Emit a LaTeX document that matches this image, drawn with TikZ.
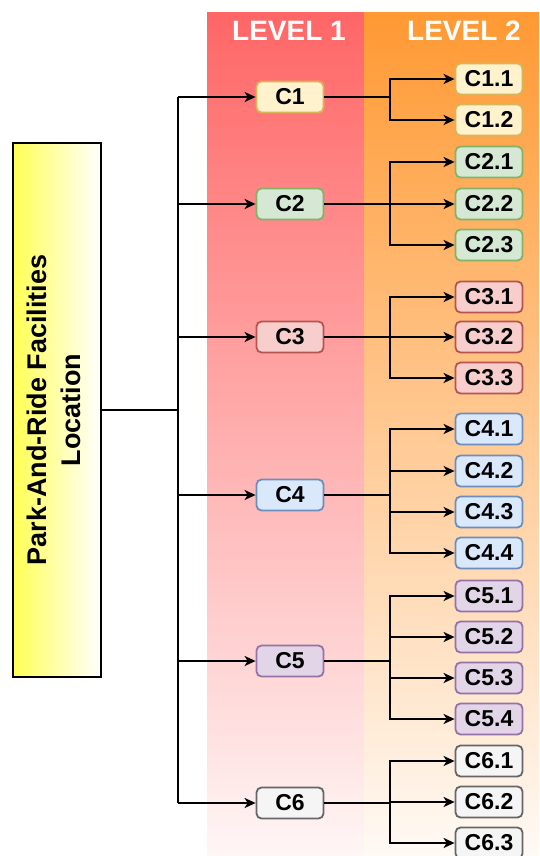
\documentclass[tikz,border=0pt]{standalone}
\usepackage{fontspec}
\setmainfont{Liberation Sans}
\usetikzlibrary{arrows.meta}
\definecolor{lonetop}{HTML}{FF6666}
\definecolor{lonebot}{HTML}{FFF6F6}
\definecolor{ltwotop}{HTML}{FF9933}
\definecolor{ltwobot}{HTML}{FFFAF5}
\definecolor{rooty}{HTML}{FFFF55}
\definecolor{fA}{HTML}{FFF2CC}\definecolor{sA}{HTML}{D6B656}
\definecolor{fB}{HTML}{D5E8D4}\definecolor{sB}{HTML}{82B366}
\definecolor{fC}{HTML}{F8CECC}\definecolor{sC}{HTML}{B85450}
\definecolor{fD}{HTML}{DAE8FC}\definecolor{sD}{HTML}{6C8EBF}
\definecolor{fE}{HTML}{E1D5E7}\definecolor{sE}{HTML}{9673A6}
\definecolor{fF}{HTML}{F5F5F5}\definecolor{sF}{HTML}{666666}
\begin{document}
\begin{tikzpicture}[x=1pt,y=-1pt,
  cbox/.style={draw, rounded corners=5pt, line width=1.8pt, minimum width=67pt,
    minimum height=31pt, inner sep=0pt, font=\fontsize{23}{26}\selectfont\bfseries},
  ca/.style={cbox, fill=fA, draw=sA},
  cb/.style={cbox, fill=fB, draw=sB},
  cc/.style={cbox, fill=fC, draw=sC},
  cd/.style={cbox, fill=fD, draw=sD},
  ce/.style={cbox, fill=fE, draw=sE},
  cf/.style={cbox, fill=fF, draw=sF},
  wire/.style={line width=2.3pt},
  arr/.style={line width=2.3pt, -{Stealth[length=11pt,width=10pt,inset=3pt]}},
  hdr/.style={text=white, font=\fontsize{28}{32}\selectfont\bfseries},
  rootbox/.style={draw, line width=2.3pt, left color=rooty, right color=white,
    minimum width=88pt, minimum height=534pt, inner sep=0pt,
    font=\fontsize{27}{34}\selectfont\bfseries}
]
\useasboundingbox (0,0) rectangle (539,856);
\shade[top color=lonetop, bottom color=lonebot] (207,13) rectangle (364,856);
\shade[top color=ltwotop, bottom color=ltwobot] (364,13) rectangle (539,856);
\node[hdr] (h1) at (289,31) {LEVEL 1};
\node[hdr] (h2) at (464,31) {LEVEL 2};

\node[rootbox] (root) at (57,410) {\rotatebox{90}{\begin{tabular}{@{}c@{}}Park-And-Ride Facilities\\Location\end{tabular}}};

\node[ca] (C1) at (290,97) {C1};
\node[cb] (C2) at (290,204) {C2};
\node[cc] (C3) at (290,337) {C3};
\node[cd] (C4) at (290,495) {C4};
\node[ce] (C5) at (290,661) {C5};
\node[cf] (C6) at (290,803) {C6};

\node[ca] (C11) at (489,79) {C1.1};
\node[ca] (C12) at (489,120) {C1.2};
\node[cb] (C21) at (489,162) {C2.1};
\node[cb] (C22) at (489,204) {C2.2};
\node[cb] (C23) at (489,245) {C2.3};
\node[cc] (C31) at (489,297) {C3.1};
\node[cc] (C32) at (489,337) {C3.2};
\node[cc] (C33) at (489,378) {C3.3};
\node[cd] (C41) at (489,429) {C4.1};
\node[cd] (C42) at (489,471) {C4.2};
\node[cd] (C43) at (489,512) {C4.3};
\node[cd] (C44) at (489,553) {C4.4};
\node[ce] (C51) at (489,596) {C5.1};
\node[ce] (C52) at (489,637) {C5.2};
\node[ce] (C53) at (489,678) {C5.3};
\node[ce] (C54) at (489,719) {C5.4};
\node[cf] (C61) at (489,761) {C6.1};
\node[cf] (C62) at (489,802) {C6.2};
\node[cf] (C63) at (489,843) {C6.3};

\coordinate (tr) at (178,410);
\coordinate (bx) at (390,0);
\draw[wire] (root.east) -- (tr);
\draw[wire] (tr |- C1) -- (tr |- C6);
\foreach \n in {C1,C2,C3,C4,C5,C6}{
  \draw[arr] (tr |- \n) -- (\n.west);
}
\foreach \p/\c in {C1/C11,C1/C12,C2/C21,C2/C22,C2/C23,C3/C31,C3/C32,C3/C33,
  C4/C41,C4/C42,C4/C43,C4/C44,C5/C51,C5/C52,C5/C53,C5/C54,C6/C61,C6/C62,C6/C63}{
  \draw[arr] (\p.east) -- (\p.east -| bx) |- (\c.west);
}
\end{tikzpicture}
\end{document}
